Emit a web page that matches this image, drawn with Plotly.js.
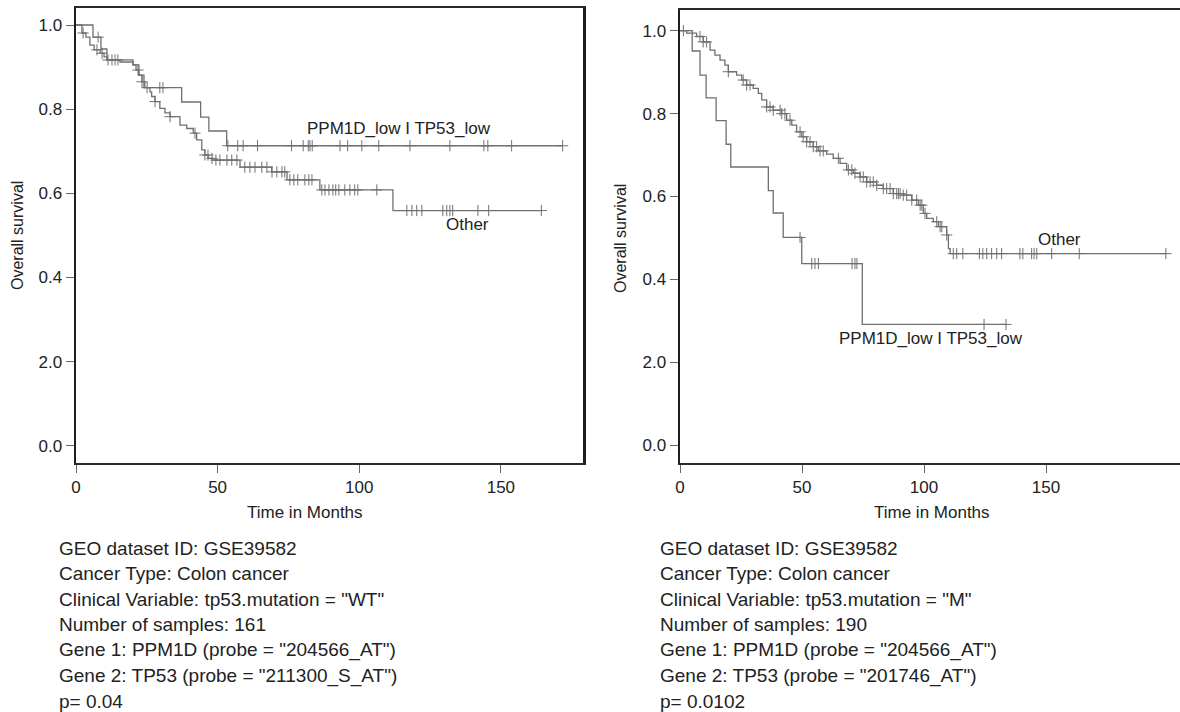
<!DOCTYPE html>
<html>
<head>
<meta charset="utf-8">
<script src="https://cdn.plot.ly/plotly-3.0.1.min.js"></script>
<style>
html,body{margin:0;padding:0;background:#fff;overflow:hidden;}
#chart{width:1180px;height:712px;}
</style>
</head>
<body>
<div id="chart"></div>
<script>
// ---------------- DATA ----------------
// Left panel: tp53.mutation = "WT"
const leftLowTimes   = [6.0, 8.8, 10.9, 20.1, 22.2, 24.0, 37.3, 44.0, 46.9, 53.2];
const leftLowSurv    = [0.971, 0.943, 0.917, 0.905, 0.881, 0.851, 0.817, 0.781, 0.748, 0.713];
const leftLowEnd     = 171.8;
const leftLowCensor  = [7.8, 29.6, 30.7, 53.6, 57.1, 59.0, 64.1, 76.1, 80.2, 82.0, 82.6, 83.4, 93.2, 95.9, 100.9, 106.9, 117.9, 132.0, 144.0, 145.4, 153.8, 171.8];

const leftOtherTimes = [2.1, 3.5, 4.9, 6.4, 8.5, 9.9, 10.9, 15.5, 20.1, 21.2, 22.2, 23.3, 24.3, 26.1, 26.7, 27.9, 29.6, 31.4, 33.2, 36.7, 39.1, 41.4, 42.6, 44.4, 45.5, 46.7, 48.3, 57.9, 69.1, 74.5, 86.1, 111.9];
const leftOtherSurv  = [0.981, 0.971, 0.952, 0.941, 0.933, 0.924, 0.917, 0.912, 0.905, 0.893, 0.881, 0.865, 0.851, 0.841, 0.830, 0.818, 0.802, 0.791, 0.782, 0.762, 0.754, 0.743, 0.727, 0.703, 0.691, 0.683, 0.679, 0.662, 0.651, 0.632, 0.608, 0.559];
const leftOtherEnd   = 164.3;
const leftOtherCensor = [2.5, 7.4, 9.2, 11.3, 12.7, 13.8, 14.8, 21.9, 23.3, 25.1, 27.9, 33.2, 42.0, 45.5, 46.6, 48.0, 49.4, 50.8, 53.3, 55.0, 56.8, 59.6, 61.4, 63.2, 65.6, 67.4, 69.2, 70.9, 72.7, 73.7, 75.5, 76.9, 78.3, 80.8, 82.2, 83.3, 86.8, 87.9, 89.3, 90.7, 91.7, 92.8, 94.9, 96.7, 98.4, 99.5, 106.2, 116.8, 118.6, 120.3, 122.1, 129.5, 130.9, 132.0, 133.0, 141.9, 145.7, 164.3];

// Right panel: tp53.mutation = "M"
const rightLowTimes  = [5.0, 8.2, 10.7, 14.8, 18.9, 20.8, 36.2, 38.2, 42.3, 49.9, 74.7];
const rightLowSurv   = [0.951, 0.893, 0.838, 0.783, 0.726, 0.671, 0.614, 0.560, 0.501, 0.438, 0.291];
const rightLowEnd    = 133.6;
const rightLowCensor = [49.2, 54.0, 55.3, 56.7, 70.5, 71.7, 72.5, 124.6, 133.6];

const rightOtherTimes = [2.7, 6.8, 9.5, 12.3, 14.3, 16.4, 18.4, 19.8, 23.2, 25.3, 27.3, 30.0, 32.1, 33.5, 35.5, 38.2, 41.7, 43.7, 45.8, 47.8, 49.9, 51.9, 54.6, 56.7, 60.1, 62.8, 65.6, 68.3, 71.0, 73.8, 76.5, 80.6, 83.3, 87.4, 91.5, 95.0, 97.7, 99.7, 101.1, 103.8, 105.9, 109.3, 110.0, 110.7];
const rightOtherSurv  = [0.994, 0.986, 0.973, 0.953, 0.941, 0.929, 0.917, 0.901, 0.893, 0.881, 0.869, 0.861, 0.849, 0.833, 0.816, 0.808, 0.800, 0.784, 0.772, 0.756, 0.744, 0.732, 0.720, 0.710, 0.702, 0.692, 0.680, 0.664, 0.656, 0.647, 0.635, 0.627, 0.619, 0.607, 0.603, 0.591, 0.579, 0.559, 0.547, 0.539, 0.527, 0.507, 0.474, 0.462];
const rightOtherEnd   = 199.2;
const rightOtherCensor = [1.4, 8.2, 9.5, 10.9, 19.8, 25.9, 27.3, 28.7, 35.5, 36.9, 38.2, 41.0, 41.7, 43.0, 45.1, 49.2, 50.5, 51.9, 53.3, 54.6, 56.0, 57.4, 58.7, 64.9, 69.0, 70.4, 71.7, 73.8, 75.1, 76.5, 77.9, 79.2, 80.6, 83.3, 84.7, 86.1, 87.4, 88.8, 89.5, 90.2, 91.5, 92.9, 95.0, 97.0, 98.4, 99.1, 100.4, 105.2, 106.6, 107.3, 109.3, 112.0, 113.4, 115.9, 122.7, 124.1, 125.7, 127.7, 129.8, 131.8, 139.3, 140.5, 144.1, 145.1, 146.2, 152.3, 163.6, 199.1];

// Tick labels (as printed in the figure)
const yTickVals  = [0, 0.2, 0.4, 0.6, 0.8, 1.0];
const yTickText  = ["0.0", "2.0", "0.4", "0.6", "0.8", "1.0"];
const xTickVals  = [0, 50, 100, 150];
const xTickText  = ["0", "50", "100", "150"];

const groupLow   = "PPM1D_low I TP53_low";
const groupOther = "Other";
const yTitle = "Overall survival";
const xTitle = "Time in Months";

const infoLeft = [
  "GEO dataset ID: GSE39582",
  "Cancer Type: Colon cancer",
  "Clinical Variable: tp53.mutation = \"WT\"",
  "Number of samples: 161",
  "Gene 1: PPM1D (probe = \"204566_AT\")",
  "Gene 2: TP53 (probe = \"211300_S_AT\")",
  "p= 0.04"
];
const infoRight = [
  "GEO dataset ID: GSE39582",
  "Cancer Type: Colon cancer",
  "Clinical Variable: tp53.mutation = \"M\"",
  "Number of samples: 190",
  "Gene 1: PPM1D (probe = \"204566_AT\")",
  "Gene 2: TP53 (probe = \"201746_AT\")",
  "p= 0.0102"
];

// ---------------- BUILD ----------------
const W = 1180, H = 712;
const FONT = "Arial, 'Liberation Sans', Helvetica, sans-serif";
const LINE = "#707070";
const px = v => v / W;
const py = v => 1 - v / H;

function stepCurve(times, surv, end, xa, ya) {
  return {
    type: "scatter", mode: "lines", xaxis: xa, yaxis: ya,
    x: [0].concat(times, [end]),
    y: [1].concat(surv, [surv[surv.length - 1]]),
    line: {shape: "hv", color: LINE, width: 1.3},
    hoverinfo: "skip", showlegend: false
  };
}
function survAt(times, surv, t) {
  let s = 1;
  for (let i = 0; i < times.length; i++) { if (times[i] <= t) s = surv[i]; }
  return s;
}
function censorTrace(cens, times, surv, xa, ya) {
  return {
    type: "scatter", mode: "markers", xaxis: xa, yaxis: ya,
    x: cens, y: cens.map(t => survAt(times, surv, t)),
    marker: {symbol: "cross-thin", size: 8, color: LINE, line: {color: LINE, width: 1}},
    hoverinfo: "skip", showlegend: false
  };
}

const data = [
  stepCurve(leftOtherTimes, leftOtherSurv, leftOtherEnd, "x", "y"),
  stepCurve(leftLowTimes, leftLowSurv, leftLowEnd, "x", "y"),
  censorTrace(leftOtherCensor, leftOtherTimes, leftOtherSurv, "x", "y"),
  censorTrace(leftLowCensor, leftLowTimes, leftLowSurv, "x", "y"),
  stepCurve(rightOtherTimes, rightOtherSurv, rightOtherEnd, "x2", "y2"),
  stepCurve(rightLowTimes, rightLowSurv, rightLowEnd, "x2", "y2"),
  censorTrace(rightOtherCensor, rightOtherTimes, rightOtherSurv, "x2", "y2"),
  censorTrace(rightLowCensor, rightLowTimes, rightLowSurv, "x2", "y2")
];

const tickFont = {family: FONT, size: 17, color: "#222"};
function xAxis(domain, range, mirror, anchor) {
  return {
    domain: domain, range: range, anchor: anchor,
    tickmode: "array", tickvals: xTickVals, ticktext: xTickText,
    ticks: "outside", ticklen: 8, tickwidth: 1, tickcolor: "#666",
    showline: true, linewidth: 2, linecolor: "#2a2a2a", mirror: mirror,
    showgrid: false, zeroline: false, tickfont: tickFont, fixedrange: true
  };
}
function yAxis(domain, range, mirror, anchor) {
  return {
    domain: domain, range: range, anchor: anchor,
    tickmode: "array", tickvals: yTickVals, ticktext: yTickText,
    ticks: "outside", ticklen: 8, tickwidth: 1, tickcolor: "#666",
    showline: true, linewidth: 2.5, linecolor: "#1e1e1e", mirror: mirror,
    showgrid: false, zeroline: false, tickfont: tickFont, fixedrange: true
  };
}

const annFont = {family: FONT, size: 17, color: "#222"};
const yTitleFont = {family: FONT, size: 16, color: "#222"};
const annotations = [
  {xref: "paper", yref: "paper", x: px(17), y: py(236), text: yTitle, textangle: -90, showarrow: false, font: yTitleFont, xanchor: "center", yanchor: "middle"},
  {xref: "paper", yref: "paper", x: px(620), y: py(239), text: yTitle, textangle: -90, showarrow: false, font: yTitleFont, xanchor: "center", yanchor: "middle"},
  {xref: "paper", yref: "paper", x: px(305), y: py(512), text: xTitle, showarrow: false, font: annFont, xanchor: "center", yanchor: "middle"},
  {xref: "paper", yref: "paper", x: px(932), y: py(512), text: xTitle, showarrow: false, font: annFont, xanchor: "center", yanchor: "middle"},
  {xref: "x", yref: "y", x: 114, y: 0.755, text: groupLow, showarrow: false, font: annFont, xanchor: "center", yanchor: "middle"},
  {xref: "x", yref: "y", x: 138.3, y: 0.525, text: groupOther, showarrow: false, font: annFont, xanchor: "center", yanchor: "middle"},
  {xref: "x2", yref: "y2", x: 155.7, y: 0.495, text: groupOther, showarrow: false, font: annFont, xanchor: "center", yanchor: "middle"},
  {xref: "x2", yref: "y2", x: 102.9, y: 0.258, text: groupLow, showarrow: false, font: annFont, xanchor: "center", yanchor: "middle"}
];
const infoFont = {family: FONT, size: 19, color: "#222"};
infoLeft.forEach((t, i) => annotations.push({xref: "paper", yref: "paper", x: px(57), y: py(548 + i * 25.6), text: t, showarrow: false, font: infoFont, xanchor: "left", yanchor: "middle"}));
infoRight.forEach((t, i) => annotations.push({xref: "paper", yref: "paper", x: px(658), y: py(548 + i * 25.6), text: t, showarrow: false, font: infoFont, xanchor: "left", yanchor: "middle"}));

const layout = {
  width: W, height: H,
  margin: {l: 0, r: 0, t: 0, b: 0, pad: 0},
  paper_bgcolor: "#ffffff", plot_bgcolor: "#ffffff",
  font: {family: FONT, color: "#222"},
  showlegend: false,
  xaxis:  xAxis([px(76), px(583)], [0, 179], true, "y"),
  yaxis:  yAxis([py(463), py(8)], [-0.0411, 1.0404], true, "x"),
  xaxis2: xAxis([px(680), 1], [0, 204.9], true, "y2"),
  yaxis2: yAxis([py(463), py(10)], [-0.0434, 1.05], false, "x2"),
  annotations: annotations
};

Plotly.newPlot("chart", data, layout, {staticPlot: true, displayModeBar: false});
</script>
</body>
</html>
